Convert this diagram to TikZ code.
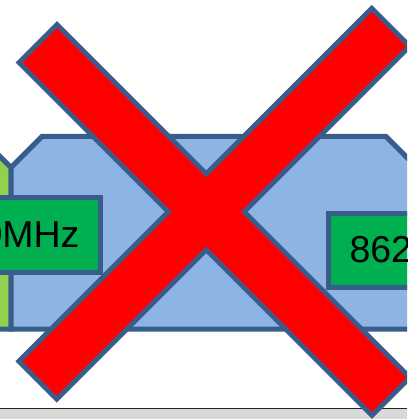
\documentclass[tikz,border=0pt]{standalone}
\usepackage{fontspec}
\setmainfont{Liberation Sans}
\usetikzlibrary{positioning,calc}
\definecolor{Outline}{HTML}{385D8A}
\definecolor{BandBlue}{HTML}{8EB4E3}
\definecolor{BandGreen}{HTML}{92D050}
\definecolor{BoxGreen}{HTML}{00B050}
\definecolor{StripGray}{HTML}{D9D9D9}
\tikzset{slide layout/.style={%
    y=-1pt,%
    x=1pt,%
    line join=miter%
}}
\tikzset{snip band/.style={%
    draw=Outline, line width=5pt
}}
\tikzset{freq box/.style={%
    rectangle, draw=Outline, fill=BoxGreen, line width=5pt, outer sep=0pt,
    minimum height=74pt, text width=118pt, inner xsep=21pt, inner ysep=0pt,
    font=\fontsize{37.5}{40}\selectfont
}}
\tikzset{cross edge/.style={%
    draw=Outline, line width=10pt
}}

\begin{document}
\begin{tikzpicture}[slide layout]
    \useasboundingbox (0,0) rectangle (407,419);
    \clip (0,0) rectangle (407,419);

    \draw[snip band, fill=BandGreen] (11,329) -- (11,167.5) -- (-20,136.5) -- (-300,136.5) -- (-300,329) -- cycle;
    \draw[snip band, fill=BandBlue] (11,329) -- (11,167.5) -- (42,136.5) -- (386,136.5) -- (417,167.5) -- (417,329) -- cycle;

    \node[freq box, anchor=east, align=right] (low) at (100.5,235) {0MHz};
    \node[freq box, anchor=west, align=left] (high) at (328.5,250) {862};

    \fill[StripGray] (0,408.5) rectangle (407,419);
    \draw[black!85, line width=1.5pt] (0,408.5) -- (407,408.5);

    % the cross
    \foreach \cx/\cy/\turn in {214.5/220/-45, 214.3/203.8/45} {
        \draw[cross edge, shift={(\cx,\cy)}, rotate=\turn] (-247,-24.25) rectangle (247,24.25);
    }
    \foreach \cx/\cy/\turn in {214.5/220/-45, 214.3/203.8/45} {
        \fill[red, shift={(\cx,\cy)}, rotate=\turn] (-247,-24.25) rectangle (247,24.25);
    }
\end{tikzpicture}
\end{document}
